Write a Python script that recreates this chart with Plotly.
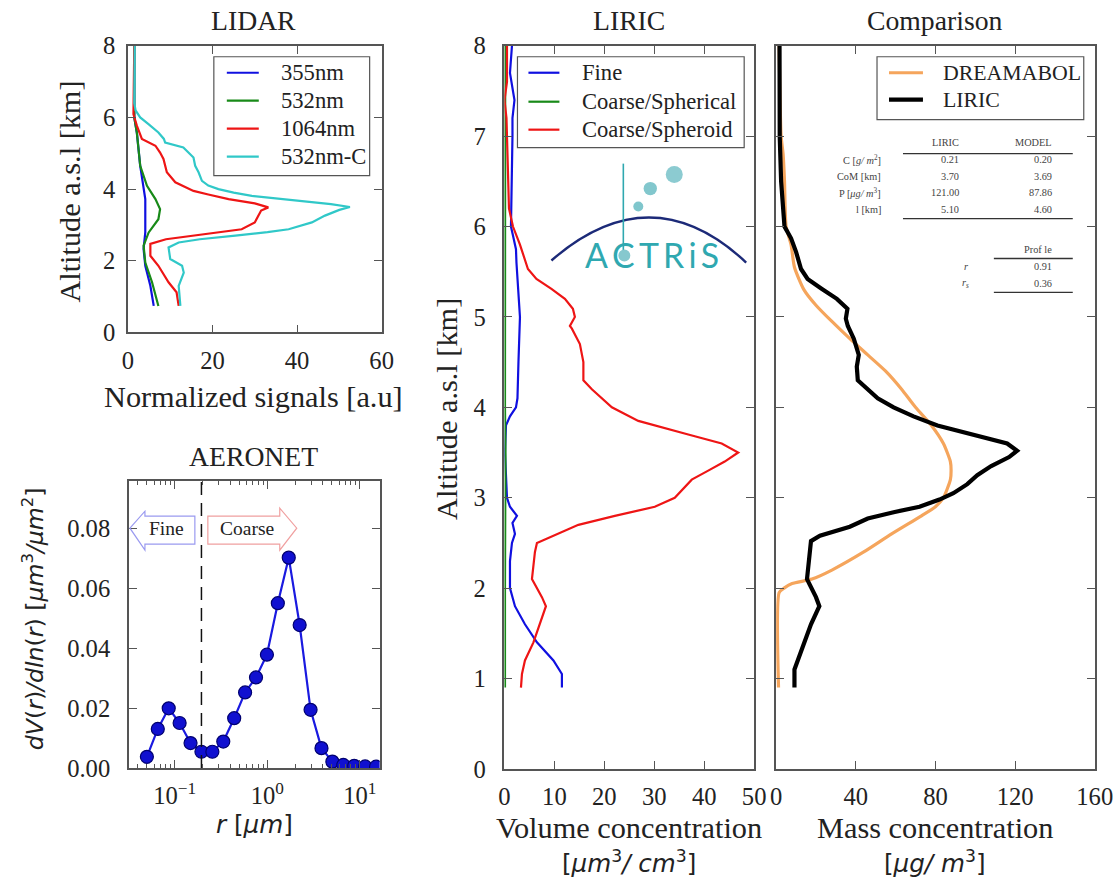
import plotly.graph_objects as go

# Figure size and the pixel mapping used to place decorations (window pixels -> paper)
W, H = 1131, 896
AX, SX = 3.9, 0.980
AY, SY = 13.2, 0.971
FS = 1 / 0.975  # font scale

SERIF = "Liberation Serif, DejaVu Serif, serif"
SANS = "DejaVu Sans, sans-serif"
SPINE = "#555555"
TXT = "#222222"

# ---------------- LIDAR normalized signals (altitude km, signal a.u.) ----------------
lidar_355_alt = [8.0, 6.5, 6.0, 5.58, 4.65, 3.72, 2.79, 2.33, 1.86, 1.30, 0.74]
lidar_355_val = [1.5, 1.4, 1.5, 2.1, 2.9, 4.1, 4.1, 3.7, 4.1, 5.3, 6.1]

lidar_532_alt = [8.0, 6.5, 6.0, 5.58, 4.65, 4.09, 3.72, 3.44, 3.16, 2.79, 2.42, 1.95, 1.40, 0.74]
lidar_532_val = [1.5, 1.4, 1.5, 2.1, 2.9, 4.5, 6.5, 7.6, 7.2, 4.9, 3.7, 4.1, 5.7, 7.2]

lidar_1064_alt = [8.0, 6.5, 6.09, 5.77, 5.55, 5.40, 5.21, 5.02, 4.84, 4.47, 4.19, 3.95, 3.85,
                  3.72, 3.60, 3.49, 3.40, 3.26, 3.07, 2.88, 2.79, 2.70, 2.60, 2.47, 2.14,
                  1.86, 1.40, 1.12, 0.74]
lidar_1064_val = [1.5, 1.4, 1.3, 2.1, 2.8, 3.3, 6.5, 7.6, 8.4, 9.2, 11.2, 15.5, 19.0,
                  23.8, 30.0, 33.2, 31.5, 30.9, 30.0, 26.9, 21.0, 14.3, 9.0, 5.3, 5.3,
                  7.2, 9.6, 11.5, 12.0]

lidar_532c_alt = [8.0, 7.0, 6.4, 6.2, 6.0, 5.8, 5.58, 5.4, 5.3, 5.16, 5.02, 4.88, 4.65, 4.47,
                  4.23, 4.10, 4.00, 3.90, 3.81, 3.67, 3.58, 3.50, 3.42, 3.26, 3.07, 2.88,
                  2.80, 2.70, 2.60, 2.51, 2.37, 2.05, 1.86, 1.67, 1.30, 0.74]
lidar_532c_val = [1.6, 1.6, 1.5, 1.8, 2.9, 5.0, 7.2, 8.5, 8.8, 13.1, 14.3, 15.5, 15.9, 16.7,
                  17.5, 19.0, 21.4, 25.0, 29.3, 41.0, 48.0, 52.5, 50.0, 46.6, 43.5, 38.0,
                  33.0, 25.4, 17.0, 12.0, 9.6, 10.0, 12.8, 13.2, 12.0, 12.4]

# ---------------- AERONET volume size distribution ----------------
aeronet_r = [0.05, 0.065604, 0.086077, 0.112939, 0.148184, 0.194429, 0.255105, 0.334719,
             0.439183, 0.576227, 0.756074, 0.991978, 1.301571, 1.707789, 2.240794,
             2.940138, 3.857742, 5.061697, 6.641416, 8.714116, 11.43361, 15.0]
aeronet_dv = [0.0037, 0.013, 0.0199, 0.015, 0.0083, 0.0054, 0.0054, 0.0088, 0.0166, 0.0252,
              0.0302, 0.0378, 0.055, 0.0702, 0.0477, 0.0194, 0.0066, 0.0021, 0.001, 0.0007,
              0.0005, 0.0004]
fine_coarse_split = 0.194429
log_minor_ticks = [m * d for d in (0.01, 0.1, 1.0) for m in range(2, 10)]

# ---------------- LIRIC volume concentrations ----------------
liric_fine_alt = [8.0, 7.7, 7.4, 7.2, 7.0, 6.5, 6.0, 5.9, 5.75, 5.6, 5.3, 5.12, 5.0, 4.5, 4.1,
                  4.0, 3.9, 3.8, 3.5, 3.0, 2.9, 2.8, 2.72, 2.6, 2.5, 2.3, 2.0, 1.8, 1.6, 1.4,
                  1.2, 1.05, 0.9]
liric_fine_val = [1.5, 1.1, 2.0, 1.6, 1.6, 1.5, 1.3, 1.7, 2.3, 2.4, 2.7, 2.9, 3.1, 2.8, 2.6,
                  2.3, 1.1, 0.3, 0.1, 0.5, 1.1, 2.5, 1.6, 2.1, 1.5, 1.1, 1.1, 2.1, 4.1, 6.5,
                  9.8, 11.5, 11.5]

liric_sph_alt = [8.0, 6.0, 4.0, 3.5, 3.0, 2.0, 0.9]
liric_sph_val = [0.15, 0.1, 0.1, 0.2, 0.15, 0.1, 0.1]

liric_spd_alt = [8.0, 7.6, 7.4, 7.2, 7.0, 6.5, 6.2, 6.0, 5.8, 5.53, 5.42, 5.31, 5.2, 5.09,
                 5.0, 4.9, 4.87, 4.7, 4.5, 4.3, 4.2, 4.0, 3.85, 3.7, 3.6, 3.5, 3.4, 3.3,
                 3.2, 3.0, 2.9, 2.8, 2.7, 2.5, 2.4, 2.1, 1.9, 1.8, 1.6, 1.4, 1.2, 1.05, 0.9]
liric_spd_val = [0.5, 0.5, 0.0, 0.4, 0.5, 0.7, 0.9, 1.7, 3.1, 4.7, 6.4, 9.4, 12.1, 13.7,
                 14.1, 13.1, 13.5, 15.1, 15.8, 15.8, 17.5, 21.5, 26.8, 36.8, 43.5, 46.8,
                 44.1, 40.8, 37.5, 34.1, 30.1, 22.1, 14.8, 6.5, 6.1, 5.5, 7.5, 8.3, 7.1,
                 5.8, 4.1, 3.5, 3.3]

# ---------------- Mass concentration comparison ----------------
dream_alt = [8.0, 7.0, 6.8, 6.5, 6.0, 5.8, 5.55, 5.3, 5.13, 4.95, 4.76, 4.58, 4.4, 4.2, 4.0,
             3.8, 3.6, 3.4, 3.3, 3.2, 3.0, 2.9, 2.8, 2.6, 2.4, 2.2, 2.1, 2.05, 2.0, 1.95, 0.9]
dream_val = [1.5, 2.5, 3.5, 4.2, 5.0, 7.5, 9.2, 14.0, 20.0, 28.0, 37.0, 46.0, 55.0, 63.0,
             70.0, 78.0, 84.0, 87.5, 87.86, 87.5, 84.0, 80.0, 73.0, 58.0, 44.0, 28.0, 18.0,
             8.0, 4.0, 1.5, 1.2]

liric_mass_alt = [8.0, 7.5, 7.0, 6.5, 6.2, 6.0, 5.87, 5.72, 5.53, 5.42, 5.31, 5.2, 5.09, 4.98,
                  4.9, 4.76, 4.58, 4.45, 4.3, 4.2, 4.1, 4.0, 3.9, 3.8, 3.7, 3.6, 3.52, 3.45,
                  3.35, 3.25, 3.15, 3.05, 2.98, 2.9, 2.84, 2.77, 2.68, 2.58, 2.52, 2.3, 2.1,
                  1.9, 1.8, 1.6, 1.3, 1.1, 0.9]
liric_mass_val = [1.7, 1.7, 1.8, 2.5, 3.5, 4.2, 7.5, 10.0, 12.5, 15.8, 23.0, 30.5, 35.8, 35.0,
                  36.0, 39.0, 41.5, 40.5, 41.0, 45.8, 51.0, 59.0, 69.0, 81.0, 99.0, 116.0,
                  121.0, 117.0, 108.0, 101.0, 96.0, 89.0, 82.0, 72.0, 59.0, 46.0, 37.0, 22.0,
                  17.5, 16.7, 15.5, 20.0, 21.7, 17.5, 12.5, 9.2, 9.2]

# Statistics table
table_rows = ["C [<i>g/ m</i><sup>2</sup>]", "CoM [km]", "P [<i>μg/ m</i><sup>3</sup>]", "l [km]"]
table_liric = ["0.21", "3.70", "121.00", "5.10"]
table_model = ["0.20", "3.69", "87.86", "4.60"]
corr_rows = ["<i>r</i>", "<i>r</i><sub><i>s</i></sub>"]
corr_vals = ["0.91", "0.36"]

BLUE, GREEN, RED, CYAN = "#1010e0", "#188a18", "#ee1515", "#30c8c8"
ORANGE, BLACK = "#f5a55c", "#000000"


def px(x):
    return ((x - AX) / SX) / W


def py(y):
    return 1 - ((y - AY) / SY) / H


def fs(s):
    return round(s * FS, 1)


fig = go.Figure()

for xs, ys, col in [(lidar_355_val, lidar_355_alt, BLUE),
                    (lidar_532_val, lidar_532_alt, GREEN),
                    (lidar_1064_val, lidar_1064_alt, RED),
                    (lidar_532c_val, lidar_532c_alt, CYAN)]:
    fig.add_trace(go.Scatter(x=xs, y=ys, mode="lines", xaxis="x", yaxis="y",
                             line=dict(color=col, width=2.2), showlegend=False))

fig.add_trace(go.Scatter(x=aeronet_r, y=aeronet_dv, mode="lines+markers", xaxis="x2", yaxis="y2",
                         line=dict(color="#1a1ae0", width=2.2),
                         marker=dict(size=13, color="#1010d0", line=dict(color="#000070", width=1.2)),
                         showlegend=False))
fig.add_trace(go.Scatter(x=[fine_coarse_split, fine_coarse_split], y=[0, 0.0957], mode="lines",
                         xaxis="x2", yaxis="y2", line=dict(color="#111111", width=1.5, dash="13px,8px"),
                         showlegend=False))

for xs, ys, col in [(liric_fine_val, liric_fine_alt, BLUE),
                    (liric_sph_val, liric_sph_alt, GREEN),
                    (liric_spd_val, liric_spd_alt, RED)]:
    fig.add_trace(go.Scatter(x=xs, y=ys, mode="lines", xaxis="x3", yaxis="y3",
                             line=dict(color=col, width=2.2), showlegend=False))

fig.add_trace(go.Scatter(x=dream_val, y=dream_alt, mode="lines", xaxis="x4", yaxis="y4",
                         line=dict(color=ORANGE, width=3.2, shape="spline", smoothing=0.6),
                         showlegend=False))
fig.add_trace(go.Scatter(x=liric_mass_val, y=liric_mass_alt, mode="lines", xaxis="x4", yaxis="y4",
                         line=dict(color=BLACK, width=4.2), showlegend=False))

axis_common = dict(showline=True, linecolor=SPINE, linewidth=1.6, mirror="allticks", ticks="inside",
                   ticklen=8, tickwidth=1.4, tickcolor=SPINE, showgrid=False, zeroline=False,
                   tickfont=dict(family=SERIF, size=fs(24), color=TXT))

fig.update_layout(
    width=W, height=H, margin=dict(l=0, r=0, t=0, b=0),
    paper_bgcolor="white", plot_bgcolor="white", showlegend=False,
    xaxis=dict(domain=[px(126), px(380)], anchor="y", range=[0, 60], tickvals=[0, 20, 40, 60],
               ticklabelstandoff=5, **axis_common),
    yaxis=dict(domain=[py(333), py(46)], anchor="x", range=[0, 8], tickvals=[0, 2, 4, 6, 8],
               ticklabelstandoff=6, **axis_common),
    xaxis2=dict(domain=[px(127), px(378)], anchor="y2", type="log", range=[-1.495, 1.215],
                tickvals=[0.1, 1, 10], ticktext=["10<sup>−1</sup>", "10<sup>0</sup>", "10<sup>1</sup>"],
                minor=dict(ticks="inside", ticklen=4, tickcolor=SPINE, tickvals=log_minor_ticks, showgrid=False),
                ticklabelstandoff=5, **axis_common),
    yaxis2=dict(domain=[py(769), py(482)], anchor="x2", range=[0, 0.0957],
                tickvals=[0, 0.02, 0.04, 0.06, 0.08], tickformat=".2f", ticklabelstandoff=12, **axis_common),
    xaxis3=dict(domain=[px(503), px(753)], anchor="y3", range=[0, 50], tickvals=[0, 10, 20, 30, 40, 50],
                ticklabelstandoff=5, **axis_common),
    yaxis3=dict(domain=[py(770), py(46)], anchor="x3", range=[0, 8], dtick=1, ticklabelstandoff=12, **axis_common),
    xaxis4=dict(domain=[px(775), px(1094)], anchor="y4", range=[0, 160], tickvals=[0, 40, 80, 120, 160],
                ticklabelstandoff=5, **axis_common),
    yaxis4=dict(domain=[py(770), py(46)], anchor="x4", range=[0, 8], dtick=1, showticklabels=False, **axis_common),
)

ann = []
shapes = []


def text(x, y, s, size, family=SERIF, angle=0, xanchor="center", color=TXT):
    ann.append(dict(x=px(x), y=py(y), xref="paper", yref="paper", text=s, showarrow=False,
                    xanchor=xanchor, yanchor="middle", textangle=angle,
                    font=dict(family=family, size=fs(size), color=color)))


def hline(x0, x1, y, color, width):
    shapes.append(dict(type="line", xref="paper", yref="paper", x0=px(x0), x1=px(x1), y0=py(y), y1=py(y),
                       line=dict(color=color, width=width)))


def legend_box(x0, y0, x1, y1, entries, line_x0, line_x1, text_x, size):
    shapes.append(dict(type="rect", xref="paper", yref="paper", x0=px(x0), x1=px(x1), y0=py(y1), y1=py(y0),
                       fillcolor="white", line=dict(color=SPINE, width=1.2), layer="above"))
    for label, col, lw, yy in entries:
        hline(line_x0, line_x1, yy, col, lw)
        text(text_x, yy, label, size, xanchor="left")


# panel titles
text(252, 21, "LIDAR", 27)
text(252, 457, "AERONET", 27)
text(628, 21, "LIRIC", 27)
text(934, 21, "Comparison", 27)

# axis titles
text(252, 398, "Normalized signals [a.u]", 29.5)
text(68, 192, "Altitude a.s.l [km]", 29.5, angle=-90)
text(446, 410, "Altitude a.s.l [km]", 29.5, angle=-90)
text(31, 620, "<i>dV</i>(<i>r</i>)<i>/dln</i>(<i>r</i>) [<i>μm</i><sup>3</sup><i>/μm</i><sup>2</sup>]", 23,
     family=SANS, angle=-90)
text(253, 826, "<i>r</i> [<i>μm</i>]", 24, family=SANS)
text(628, 829, "Volume concentration", 29.5)
text(628, 863, "[<i>μm</i><sup>3</sup><i>/ cm</i><sup>3</sup>]", 24, family=SANS)
text(934, 829, "Mass concentration", 29.5)
text(934, 863, "[<i>μg/ m</i><sup>3</sup>]", 24, family=SANS)

# legends
legend_box(212, 57, 368, 176,
           [("355nm", BLUE, 2.2, 73), ("532nm", GREEN, 2.2, 101), ("1064nm", RED, 2.2, 129),
            ("532nm-C", CYAN, 2.2, 157)],
           225, 257, 277, 22)
legend_box(516, 57, 743, 148,
           [("Fine", BLUE, 2.2, 73), ("Coarse/Spherical", GREEN, 2.2, 102), ("Coarse/Spheroid", RED, 2.2, 130)],
           527, 558, 579, 22)
legend_box(876, 57, 1083, 120,
           [("DREAMABOL", ORANGE, 3.2, 73), ("LIRIC", BLACK, 4.2, 100)],
           888, 922, 940, 21.3)

# Fine / Coarse labels
text(165, 529, "Fine", 19)
text(245, 529, "Coarse", 19)

# statistics table
tfs = 10
text(960, 143, "LIRIC", tfs, xanchor="right", color="#444")
text(1053, 143, "MODEL", tfs, xanchor="right", color="#444")
for i, (lab, a, b) in enumerate(zip(table_rows, table_liric, table_model)):
    yy = 160 + i * 16.7
    text(882, yy, lab, tfs, xanchor="right", color="#444")
    text(960, yy, a, tfs, xanchor="right", color="#444")
    text(1053, yy, b, tfs, xanchor="right", color="#444")
text(1053, 250, "Prof le", tfs, xanchor="right", color="#444")
for i, (lab, v) in enumerate(zip(corr_rows, corr_vals)):
    yy = 267 + i * 17
    text(970, yy, lab, tfs, xanchor="right", color="#444")
    text(1053, yy, v, tfs, xanchor="right", color="#444")
for (x0, x1, y) in [(902, 1072, 154), (902, 1072, 219), (993, 1072, 259), (993, 1072, 293)]:
    hline(x0, x1, y, "#333", 1.3)

# ACTRIS logo lettering
ann.append(dict(x=px(651), y=py(255), xref="paper", yref="paper", text="A\u2009C\u2009T\u2009R\u2009i\u2009S",
                showarrow=False, xanchor="center", yanchor="middle",
                font=dict(family="Lato, Open Sans, sans-serif", size=fs(33), color="#2fa8b0", weight=400)))


def poly(points, color):
    d = "M " + " L ".join(f"{px(a):.5f},{py(b):.5f}" for a, b in points) + " Z"
    return dict(type="path", path=d, xref="paper", yref="paper", line=dict(color=color, width=1.2),
                fillcolor="rgba(0,0,0,0)")


# Fine arrow (pointing left) and Coarse arrow (pointing right)
shapes.append(poly([(128, 529), (143, 512), (143, 517), (193, 517), (193, 545), (143, 545), (143, 551)],
                   "#9a9af0"))
shapes.append(poly([(206, 517), (278, 517), (278, 509), (295, 529), (278, 551), (278, 545), (206, 545)],
                   "#f0a0a0"))

# ACTRIS logo graphics
shapes.append(dict(type="path", xref="paper", yref="paper",
                   path=f"M {px(550):.5f},{py(261):.5f} Q {px(650):.5f},{py(174):.5f} {px(745):.5f},{py(263):.5f}",
                   line=dict(color="#1c2a78", width=2.4)))
shapes.append(dict(type="line", xref="paper", yref="paper", x0=px(622), x1=px(622), y0=py(164), y1=py(256),
                   line=dict(color="#2fa8b0", width=1.6)))
for (cx, cy, r, col) in [(637, 207, 5, "#7fc6cc"), (649, 189, 6.7, "#82c7cd"), (673, 175, 8.5, "#8ccbd1"),
                         (623, 256, 6, "#86c8ce")]:
    shapes.append(dict(type="circle", xref="paper", yref="paper", x0=px(cx - r), x1=px(cx + r),
                       y0=py(cy + r), y1=py(cy - r), fillcolor=col, line=dict(width=0)))

fig.update_layout(annotations=ann, shapes=shapes)

fig.write_html("out.html")
